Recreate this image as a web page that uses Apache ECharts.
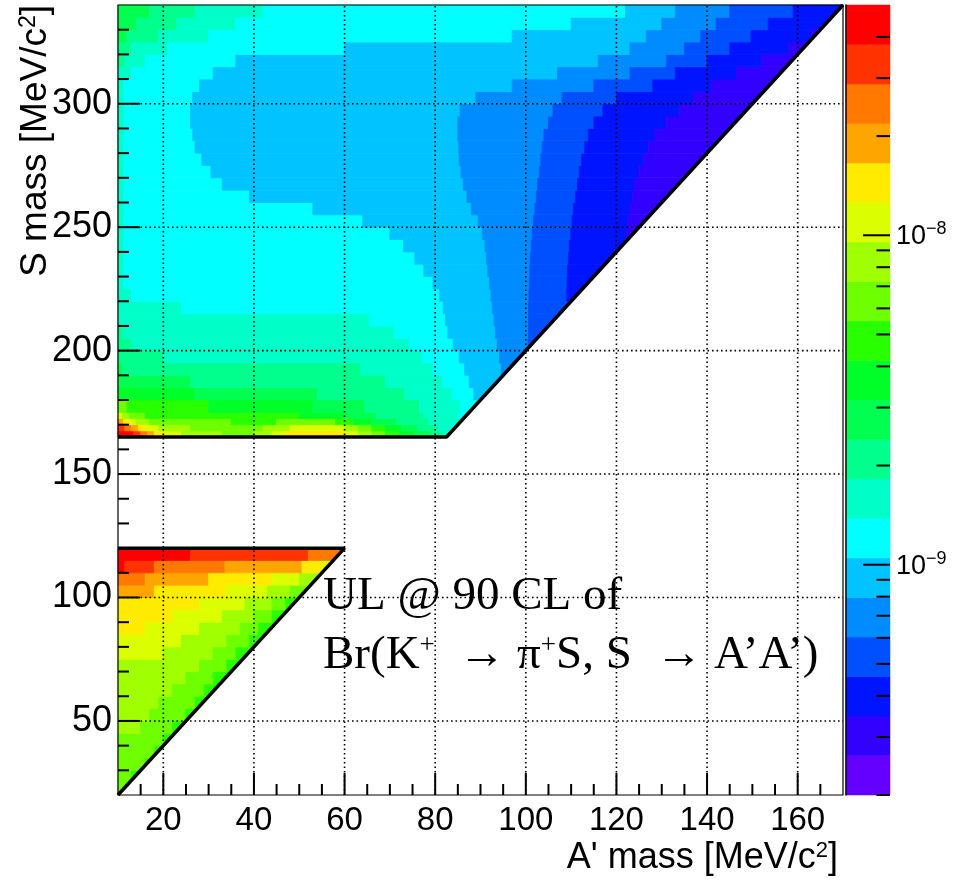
<!DOCTYPE html>
<html>
<head>
<meta charset="utf-8">
<script src="https://cdn.jsdelivr.net/npm/echarts@6/dist/echarts.min.js"></script>
<style>
  html, body { margin: 0; background: #fff; }
  #chart { width: 953px; height: 882px; }
</style>
</head>
<body>
<div id="chart"></div>
<script>
// 20 contour colours, lowest level first (ROOT rainbow palette)
const bandColors = [
  '#6400ff', '#3200ff', '#0014ff', '#0050ff', '#008cff',
  '#00c3ff', '#00ffff', '#00ffc8', '#00ff8c', '#00ff50',
  '#00ff28', '#28ff00', '#6eff00', '#a0ff00', '#dcff00',
  '#ffeb00', '#ffa500', '#ff7800', '#ff3200', '#ff0000'
]
const zMin = 2e-10
const zMax = 5e-8

// S rows (MeV) and, for each row, runs as [A' start, level, A' start, level, ...]
const upperRowEdges = [165, 167.5, 170, 172.5, 175, 180, 185, 190, 195, 200, 205, 210, 215, 220, 225, 230,
  235, 240, 245, 250, 255, 260, 265, 270, 275, 280, 285, 290, 295, 300, 305, 310, 315, 320, 325, 330, 335, 340]
const upperRuns = [
  [10, 19, 13.5, 18, 15, 17, 16.5, 16, 18, 15, 20, 14, 24, 13, 33, 12, 40, 13, 44, 14, 47, 15, 60, 14, 63, 13, 66, 12, 69, 11, 72, 10, 75.5, 9, 79, 8, 81.5, 7],
  [10, 18, 11.5, 17, 13, 16, 14.5, 15, 16, 14, 19, 13, 26, 12, 42, 13, 48, 14, 60, 13, 63, 12, 66, 11, 69, 10, 72.5, 9, 76, 8, 80.5, 7, 83.5, 6],
  [10, 16, 11.2, 15, 12.5, 14, 14, 13, 17, 12, 35, 11, 45, 12, 58, 11, 62, 10, 66, 9, 71.5, 8, 78.5, 7],
  [10, 14, 11, 13, 12.5, 12, 16, 11, 50, 10, 60, 9, 67, 8, 77.5, 7, 85, 6],
  [10, 12, 12, 11, 30, 10, 53, 9, 64.5, 8, 76.5, 7, 85.6, 6],
  [10, 10, 27, 9, 54, 8, 73.3, 7, 83.7, 6, 88.5, 5],
  [10, 9, 26, 8, 69, 7, 81.7, 6, 87.5, 5],
  [10, 9, 11, 8, 63.6, 7, 79.5, 6, 86.5, 5, 94.6, 4],
  [10, 8, 20, 7, 77.1, 6, 85.3, 5, 94.2, 4],
  [10, 8, 13, 7, 74.3, 6, 84, 5, 93.7, 4, 100.5, 3],
  [10, 8, 11, 7, 71, 6, 82.8, 5, 93.3, 4, 100.6, 3],
  [10, 7, 65.5, 6, 82.3, 5, 93, 4, 100.6, 3],
  [10, 7, 24, 6, 81.8, 5, 92.6, 4, 100.6, 3],
  [10, 7, 13, 6, 81, 5, 92.3, 4, 100.7, 3, 109, 2],
  [10, 7, 11.3, 6, 79.5, 5, 92, 4, 100.8, 3, 109.1, 2],
  [10, 7, 11.3, 6, 77.5, 5, 91.6, 4, 100.9, 3, 109.2, 2],
  [10, 7, 11.3, 6, 75.5, 5, 91.3, 4, 101, 3, 109.4, 2],
  [10, 7, 11.3, 6, 73, 5, 91, 4, 101.2, 3, 109.6, 2],
  [10, 7, 11.3, 6, 70, 5, 90.4, 4, 101.4, 3, 109.9, 2, 122.2, 1],
  [10, 7, 11.3, 6, 64, 5, 89.5, 4, 101.7, 3, 110.2, 2, 122.5, 1],
  [10, 7, 11.3, 6, 53, 5, 88, 4, 102, 3, 110.5, 2, 123, 1],
  [10, 7, 11.3, 6, 39, 5, 87, 4, 102.3, 3, 111, 2, 123.5, 1],
  [10, 7, 11.3, 6, 33, 5, 86.2, 4, 102.6, 3, 111.4, 2, 124, 1],
  [10, 7, 11.3, 6, 30.5, 5, 85.7, 4, 103, 3, 111.8, 2, 125, 1],
  [10, 7, 11.3, 6, 28.5, 5, 85.3, 4, 103.3, 3, 112.3, 2, 126, 1],
  [10, 7, 11.3, 6, 27, 5, 85.2, 4, 103.6, 3, 113, 2, 127, 1],
  [10, 7, 11.3, 6, 26.5, 5, 85, 4, 104, 3, 113.8, 2, 128.5, 1],
  [10, 7, 11.3, 6, 26, 5, 85, 4, 105, 3, 115, 2, 131, 1],
  [10, 7, 11.3, 6, 26, 5, 85.5, 4, 106, 3, 117, 2, 134, 1],
  [10, 7, 11.3, 6, 26.5, 5, 89, 4, 108, 3, 120, 2, 137, 1],
  [10, 7, 11.3, 6, 28, 5, 97, 4, 115, 3, 128, 2, 141, 1],
  [10, 7, 13, 6, 31, 5, 107, 4, 123, 3, 133, 2, 146.5, 1],
  [10, 8, 11.5, 7, 16, 6, 36, 5, 116, 4, 131, 3, 140, 2, 152, 1],
  [10, 8, 13, 7, 21, 6, 60, 5, 123, 4, 135, 3, 145, 2, 158, 1],
  [10, 9, 12, 8, 19, 7, 30, 6, 97, 5, 126.6, 4, 138.6, 3, 149.7, 2, 163, 1],
  [10, 9, 14, 8, 23, 7, 36, 6, 110, 5, 130, 4, 142, 3, 153.5, 2],
  [10, 9, 17, 8, 27, 7, 42, 6, 122, 5, 133, 4, 145, 3, 159, 2]
]

const lowerRowEdges = [20, 25, 30, 35, 40, 45, 50, 55, 60, 65, 70, 75, 80, 85, 90, 95, 100, 105, 110, 115, 120]
const lowerRuns = [
  [10, 12],
  [10, 12, 13, 11],
  [10, 12, 16, 11],
  [10, 12, 18, 11],
  [10, 12, 20, 11],
  [10, 13, 15, 12, 22, 11],
  [10, 13, 17, 12, 25, 11],
  [10, 13, 19, 12, 27, 11],
  [10, 13, 22, 12, 29, 11],
  [10, 13, 25, 12, 31, 11],
  [10, 13, 28, 12, 34, 11],
  [10, 14, 20, 13, 31, 12, 36, 11],
  [10, 14, 24, 13, 34, 12, 39, 11],
  [10, 15, 16, 14, 28, 13, 37, 12, 41, 11],
  [10, 15, 22, 14, 33, 13, 40, 12, 44, 11],
  [10, 15, 28, 14, 38, 13, 44, 12, 47, 11],
  [10, 16, 18, 15, 34, 14, 43, 13, 48, 12],
  [10, 17, 16, 16, 30, 15, 44, 14, 50, 13],
  [10, 19, 11.5, 18, 18, 17, 33.6, 16, 50.6, 15, 55, 14],
  [10, 19, 26, 18, 52, 17]
]

// kinematic boundaries (A', S)
const upperEdge = [[10, 165], [82.5, 165], [170, 340]]
const lowerEdge = [[10, 20], [60, 120], [10, 120]]

const xMajorTicks = [20, 40, 60, 80, 100, 120, 140, 160]
const xMinorTicks = [15, 25, 30, 35, 45, 50, 55, 65, 70, 75, 85, 90, 95, 105, 110, 115, 125, 130, 135, 145, 150, 155, 165]
const yMajorTicks = [50, 100, 150, 200, 250, 300]
const yMinorTicks = [30, 40, 60, 70, 80, 90, 110, 120, 130, 140, 160, 170, 180, 190, 210, 220, 230, 240, 260, 270, 280, 290, 310, 320, 330]
const zMajorTicks = [1e-9, 1e-8]
const zMinorTicks = [2e-10, 3e-10, 4e-10, 5e-10, 6e-10, 7e-10, 8e-10, 9e-10,
  2e-9, 3e-9, 4e-9, 5e-9, 6e-9, 7e-9, 8e-9, 9e-9, 2e-8, 3e-8, 4e-8]

// keep the part of a polygon with 2A' <= S
const clipDiag = (pts) => {
  const out = []
  const f = p => 2 * p[0] - p[1]
  for (let i = 0; i < pts.length; i++) {
    const p = pts[i]
    const q = pts[(i + 1) % pts.length]
    const fp = f(p)
    const fq = f(q)
    if (fp <= 0) out.push(p)
    if ((fp < 0 && fq > 0) || (fp > 0 && fq < 0)) {
      const t = fp / (fp - fq)
      out.push([p[0] + t * (q[0] - p[0]), p[1] + t * (q[1] - p[1])])
    }
  }
  return out
}

const buildCells = (edges, runs, aMax) => {
  const cells = []
  runs.forEach((r, i) => {
    for (let j = 0; j < r.length; j += 2) {
      const a1 = j + 2 < r.length ? r[j + 2] : aMax
      cells.push([r[j], a1, edges[i], edges[i + 1], r[j + 1]])
    }
  })
  return cells
}

const cells = buildCells(upperRowEdges, upperRuns, 170).concat(buildCells(lowerRowEdges, lowerRuns, 60))
const bandIdx = bandColors.map((c, i) => [i])
const bandEdge = k => zMin * Math.pow(zMax / zMin, k / bandColors.length)

const chart = echarts.init(document.getElementById('chart'))

const tickSeries = (data, axis, len) => ({
  type: 'custom',
  xAxisIndex: 0,
  yAxisIndex: 0,
  z: 5,
  silent: true,
  data: data.map(v => [v]),
  renderItem: (params, api) => {
    const v = api.value(0)
    const p = axis === 'x' ? api.coord([v, 20]) : api.coord([10, v])
    return {
      type: 'line',
      shape: axis === 'x'
        ? { x1: p[0], y1: p[1], x2: p[0], y2: p[1] - len }
        : { x1: p[0], y1: p[1], x2: p[0] + len, y2: p[1] },
      style: { stroke: '#000', lineWidth: 2 }
    }
  }
})

const gridSeries = (data, axis) => ({
  type: 'custom',
  xAxisIndex: 0,
  yAxisIndex: 0,
  z: 3,
  silent: true,
  data: data.map(v => [v]),
  renderItem: (params, api) => {
    const v = api.value(0)
    const p0 = axis === 'x' ? api.coord([v, 20]) : api.coord([10, v])
    const p1 = axis === 'x' ? api.coord([v, 340]) : api.coord([170, v])
    return {
      type: 'line',
      shape: { x1: p0[0], y1: p0[1], x2: p1[0], y2: p1[1] },
      style: { stroke: '#000', lineWidth: 1.6, lineDash: [1.6, 2.9] }
    }
  }
})

const option = {
  animation: false,
  backgroundColor: '#fff',
  textStyle: { fontFamily: 'Liberation Sans' },
  grid: [
    { left: 118, top: 5, width: 725, height: 790 },
    { left: 846, top: 5, width: 44, height: 790 }
  ],
  xAxis: [
    {
      type: 'value', gridIndex: 0, min: 10, max: 170, interval: 10,
      axisLine: { show: false }, axisTick: { show: false }, splitLine: { show: false },
      axisLabel: {
        color: '#000', fontSize: 33, margin: 9,
        formatter: v => (v % 20 === 0 && v >= 20 && v <= 160 ? String(v) : '')
      }
    },
    {
      type: 'value', gridIndex: 1, min: 0, max: 1, show: false
    }
  ],
  yAxis: [
    {
      type: 'value', gridIndex: 0, min: 20, max: 340, interval: 10,
      axisLine: { show: false }, axisTick: { show: false }, splitLine: { show: false },
      axisLabel: {
        color: '#000', fontSize: 36, margin: 6,
        formatter: v => (v % 50 === 0 ? String(v) : '')
      }
    },
    {
      type: 'log', gridIndex: 1, min: zMin, max: zMax, logBase: 10, position: 'right', z: 5,
      axisLine: { show: true, lineStyle: { color: '#000', width: 1.5 } },
      axisTick: { show: false }, splitLine: { show: false },
      axisLabel: {
        margin: 6,
        formatter: v => {
          const e = Math.round(Math.log10(v))
          if (Math.abs(v / Math.pow(10, e) - 1) > 1e-6) return ''
          return '{b|10}{s|\u2212' + (-e) + '}'
        },
        rich: {
          b: { fontSize: 27, color: '#000', lineHeight: 30, verticalAlign: 'bottom', fontFamily: 'Liberation Sans' },
          s: { fontSize: 18, color: '#000', lineHeight: 17, verticalAlign: 'top', fontFamily: 'Liberation Sans' }
        }
      }
    }
  ],
  graphic: [
    {
      type: 'text', x: 838, y: 858,
      style: {
        text: 'A\' mass [MeV/c{s|2}]', align: 'right', verticalAlign: 'middle',
        fontSize: 36, fontFamily: 'Liberation Sans', fill: '#000',
        rich: { s: { fontSize: 22, verticalAlign: 'top', lineHeight: 20, fontFamily: 'Liberation Sans' } }
      }
    },
    {
      type: 'text', x: 36, y: 5, rotation: Math.PI / 2,
      style: {
        text: 'S mass [MeV/c{s|2}]', align: 'right', verticalAlign: 'middle',
        fontSize: 37, fontFamily: 'Liberation Sans', fill: '#000',
        rich: { s: { fontSize: 23, verticalAlign: 'top', lineHeight: 20, fontFamily: 'Liberation Sans' } }
      }
    },
    {
      type: 'text', x: 323, y: 620,
      style: {
        text: 'UL @ 90 CL of', align: 'left', verticalAlign: 'bottom',
        fontSize: 47, fontFamily: 'Liberation Serif', fill: '#000'
      }
    },
    {
      type: 'text', x: 323, y: 679,
      style: {
        text: 'Br(K{s|+}  \u2192 \u03c0{s|+}S, S  \u2192 A\u2019A\u2019)', align: 'left', verticalAlign: 'bottom',
        fontSize: 47, fontFamily: 'Liberation Serif', fill: '#000',
        rich: { s: { fontSize: 27, verticalAlign: 'top', lineHeight: 47, fontFamily: 'Liberation Serif' } }
      }
    }
  ],
  series: [
    {
      type: 'custom',
      name: 'UL',
      xAxisIndex: 0,
      yAxisIndex: 0,
      z: 1,
      silent: true,
      data: cells,
      renderItem: (params, api) => {
        const a0 = api.value(0)
        const a1 = api.value(1)
        const s0 = api.value(2)
        const s1 = api.value(3)
        const poly = clipDiag([[a0, s0], [a1, s0], [a1, s1], [a0, s1]])
        if (poly.length < 3) return null
        const c = bandColors[api.value(4)]
        return {
          type: 'polygon',
          shape: { points: poly.map(p => api.coord(p)) },
          style: { fill: c, stroke: c, lineWidth: 0.8 }
        }
      }
    },
    gridSeries(xMajorTicks, 'x'),
    gridSeries(yMajorTicks, 'y'),
    tickSeries(xMajorTicks, 'x', 22),
    tickSeries(xMinorTicks, 'x', 11),
    tickSeries(yMajorTicks, 'y', 22),
    tickSeries(yMinorTicks, 'y', 11),
    {
      type: 'custom',
      xAxisIndex: 0,
      yAxisIndex: 0,
      z: 6,
      silent: true,
      data: [[10, 20, 170, 340]],
      renderItem: (params, api) => {
        const p0 = api.coord([api.value(0), api.value(3)])
        const p1 = api.coord([api.value(2), api.value(1)])
        return {
          type: 'rect',
          shape: { x: p0[0], y: p0[1], width: p1[0] - p0[0], height: p1[1] - p0[1] },
          style: { fill: null, stroke: '#000', lineWidth: 1.2 }
        }
      }
    },
    {
      type: 'line', xAxisIndex: 0, yAxisIndex: 0, z: 7, silent: true,
      data: upperEdge, symbol: 'none',
      lineStyle: { color: '#000', width: 3.5 }
    },
    {
      type: 'line', xAxisIndex: 0, yAxisIndex: 0, z: 7, silent: true,
      data: lowerEdge, symbol: 'none',
      lineStyle: { color: '#000', width: 3.5 }
    },
    {
      type: 'custom',
      xAxisIndex: 1,
      yAxisIndex: 1,
      z: 1,
      silent: true,
      data: bandIdx,
      renderItem: (params, api) => {
        const k = api.value(0)
        const top = api.coord([0, bandEdge(k + 1)])
        const bot = api.coord([1, bandEdge(k)])
        return {
          type: 'rect',
          shape: { x: top[0], y: top[1], width: bot[0] - top[0], height: bot[1] - top[1] },
          style: { fill: bandColors[k], stroke: bandColors[k], lineWidth: 0.5 }
        }
      }
    },
    {
      type: 'custom',
      xAxisIndex: 1,
      yAxisIndex: 1,
      z: 5,
      silent: true,
      data: zMajorTicks.map(v => [v, 27]).concat(zMinorTicks.map(v => [v, 13.5])),
      renderItem: (params, api) => {
        const p = api.coord([1, api.value(0)])
        return {
          type: 'line',
          shape: { x1: p[0], y1: p[1], x2: p[0] - api.value(1), y2: p[1] },
          style: { stroke: '#000', lineWidth: 2 }
        }
      }
    }
  ]
}

chart.setOption(option)
</script>
</body>
</html>
